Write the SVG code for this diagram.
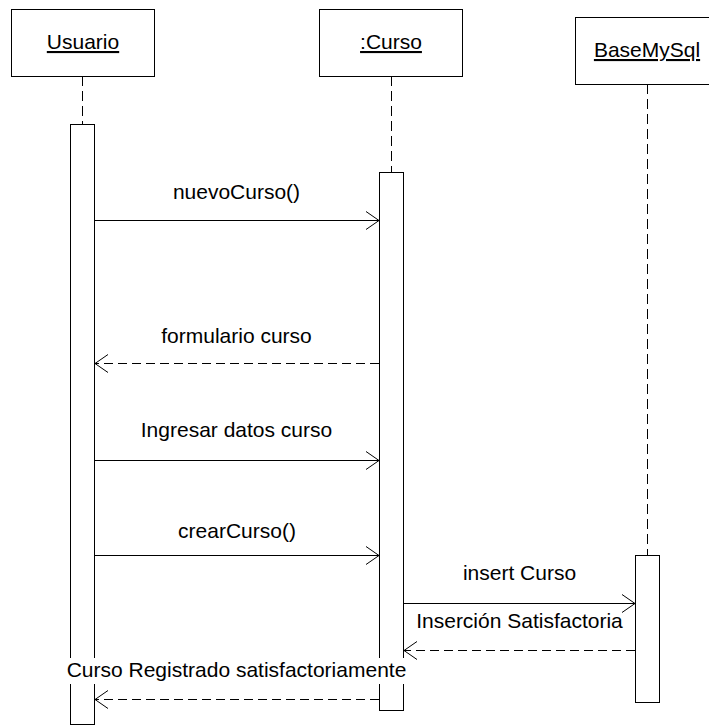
<svg xmlns="http://www.w3.org/2000/svg" width="709" height="726" viewBox="0 0 709 726">
<style>
.box{fill:#fff;stroke:#000;stroke-width:1}
.life{stroke:#000;stroke-width:1;stroke-dasharray:10 5;fill:none}
.act{fill:#fff;stroke:#000;stroke-width:1}
.msg{stroke:#000;stroke-width:1;fill:none;marker-end:url(#open)}
.ret{stroke:#000;stroke-width:1;fill:none;stroke-dasharray:9 5;marker-end:url(#open)}
text{font-family:"Liberation Sans",Arial,sans-serif;font-size:21px;fill:#000;text-anchor:middle}
.name{text-decoration:underline}
</style>
<defs>
<marker id="open" markerUnits="userSpaceOnUse" viewBox="-15 -11 17 22" markerWidth="17" markerHeight="22" refX="0" refY="0" orient="auto" overflow="visible">
<path d="M-13,-9 L0,0 L-13,9" fill="none" stroke="#000" stroke-width="1"/>
</marker>
</defs>
<rect width="709" height="726" fill="#fff"/>
<g id="lifelines">
<line class="life" x1="82.5" y1="76" x2="82.5" y2="124"/>
<line class="life" x1="391.5" y1="76" x2="391.5" y2="172"/>
<line class="life" x1="647.5" y1="84" x2="647.5" y2="555"/>
</g>
<g id="usuario">
<rect class="box" x="11.5" y="9.5" width="143" height="67"/>
<text class="name" x="83" y="49">Usuario</text>
<rect class="act" x="70.5" y="124.5" width="24" height="600"/>
</g>
<g id="curso">
<rect class="box" x="319.5" y="9.5" width="143" height="67"/>
<text class="name" x="391" y="49">:Curso</text>
<rect class="act" x="379.5" y="172.5" width="24" height="538"/>
</g>
<g id="basemysql">
<rect class="box" x="575.5" y="17.5" width="145" height="67"/>
<text class="name" x="647" y="57">BaseMySql</text>
<rect class="act" x="635.5" y="555.5" width="24" height="147"/>
</g>
<g id="connectors">
<line class="msg" x1="95" y1="220.5" x2="379" y2="220.5"/>
<text x="236.5" y="199">nuevoCurso()</text>
<line class="ret" x1="379" y1="363.5" x2="95" y2="363.5"/>
<text x="236.5" y="343">formulario curso</text>
<line class="msg" x1="95" y1="460.5" x2="379" y2="460.5"/>
<text x="236.5" y="437">Ingresar datos curso</text>
<line class="msg" x1="95" y1="555.5" x2="379" y2="555.5"/>
<text x="237" y="538">crearCurso()</text>
<line class="msg" x1="404" y1="603.5" x2="635" y2="603.5"/>
<text x="519.5" y="580">insert Curso</text>
<line class="ret" x1="635" y1="650.5" x2="404" y2="650.5"/>
<text x="519.5" y="628">Inserción Satisfactoria</text>
<rect x="64" y="658" width="344" height="26" fill="#fff"/>
<text x="236.5" y="677">Curso Registrado satisfactoriamente</text>
<line class="ret" x1="379" y1="699.5" x2="95" y2="699.5"/>
</g>
</svg>
